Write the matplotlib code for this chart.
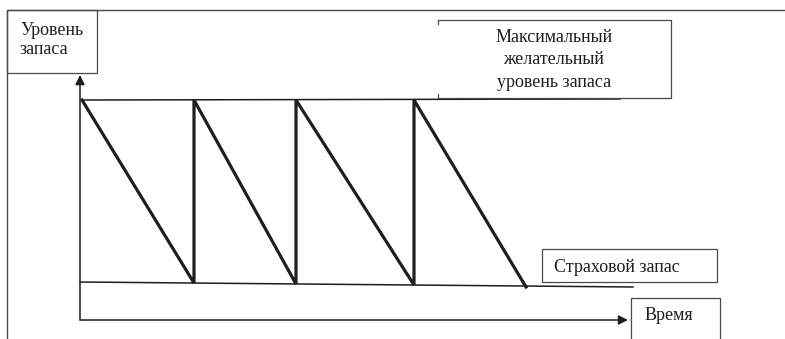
import matplotlib
matplotlib.use("Agg")
import matplotlib.pyplot as plt
from matplotlib.patches import Rectangle

plt.rcParams['font.family'] = ['Liberation Serif', 'DejaVu Serif']

# Sawtooth inventory path (time, level)
saw_t = [0.2, 11.4, 11.4, 21.6, 21.6, 33.4, 33.4, 44.6]
saw_L = [22.0, 3.7, 22.0, 3.6, 22.0, 3.5, 22.0, 3.3]
# Maximum desired level line
max_t = [0.2, 54.0]
max_L = [22.0, 22.1]
# Safety stock line
safe_t = [0.0, 55.3]
safe_L = [3.8, 3.3]
# Axis extents
axis_t_end = 54.8
axis_L_end = 24.5

label_y = "Уровень\nзапаса"
label_max = "Максимальный\nжелательный\nуровень запаса"
label_safe = "Страховой запас"
label_time = "Время"

fig = plt.figure(figsize=(7.85, 3.39), dpi=100)
ax = fig.add_axes([0, 0, 1, 1])
ax.set_xlim(-8.0, 70.5)
ax.set_ylim(-1.9, 32.0)
ax.axis('off')

dark = '#1e1e1e'
gray = '#4a4a4a'

# Outer frame (top and left)
ax.plot([-7.3, 70.5], [31.0, 31.0], color=gray, lw=1.0, solid_capstyle='butt')
ax.plot([-7.3, -7.3], [31.0, -1.9], color=gray, lw=1.0, solid_capstyle='butt')

# Axes arrows
ax.annotate('', xy=(0, axis_L_end), xytext=(0, 0),
            arrowprops=dict(arrowstyle='-|>', color=dark, lw=1.1, mutation_scale=14,
                            shrinkA=0, shrinkB=0))
ax.annotate('', xy=(axis_t_end, 0), xytext=(0, 0),
            arrowprops=dict(arrowstyle='-|>', color=dark, lw=1.1, mutation_scale=14,
                            shrinkA=0, shrinkB=0))

# Level lines
ax.plot(max_t, max_L, color=dark, lw=1.1)
ax.plot(safe_t, safe_L, color=dark, lw=1.1)

# Sawtooth
ax.plot(saw_t, saw_L, color=dark, lw=2.3, solid_joinstyle='miter')

# Boxes
ax.add_patch(Rectangle((-7.3, 24.7), 9.0, 6.3, fill=False, edgecolor=gray, lw=0.9))
# Max box: right, top, bottom edges plus short left ticks
bx0, bx1, by0, by1 = 35.8, 59.1, 22.2, 30.0
ax.plot([bx0, bx1, bx1, bx0], [by1, by1, by0, by0], color=gray, lw=0.9)
ax.plot([bx0, bx0], [by1, by1 - 0.4], color=gray, lw=0.9)
ax.plot([bx0, bx0], [by0, by0 + 0.4], color=gray, lw=0.9)
ax.add_patch(Rectangle((46.2, 3.8), 17.5, 3.3, fill=False, edgecolor=gray, lw=0.9))
ax.add_patch(Rectangle((55.1, -2.2), 8.9, 4.4, fill=False, edgecolor=gray, lw=0.9))

# Texts
fs = 13
ax.text(-6.0, 28.0, label_y, ha='left', va='center', fontsize=fs, color=dark,
        linespacing=1.2)
ax.text(47.4, 26.0, label_max, ha='center', va='center', fontsize=fs, color=dark,
        linespacing=1.45)
ax.text(47.4, 5.3, label_safe, ha='left', va='center', fontsize=fs, color=dark)
ax.text(56.5, 0.4, label_time, ha='left', va='center', fontsize=fs, color=dark)

fig.savefig('out.png', dpi=100)
